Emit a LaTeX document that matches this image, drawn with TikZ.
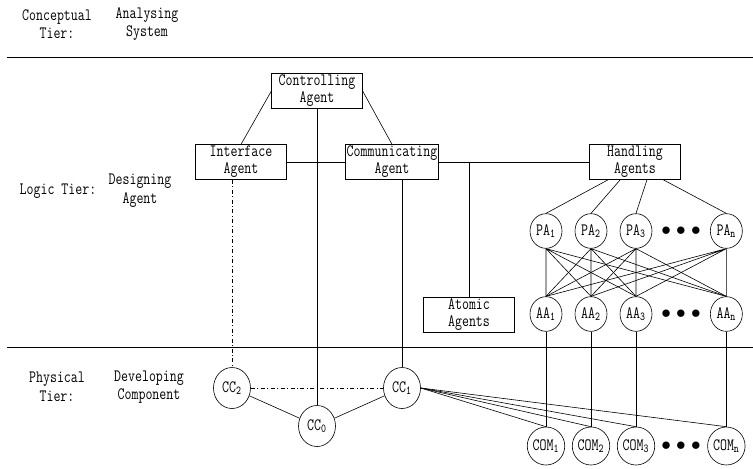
\documentclass[tikz,border=0pt]{standalone}
\usepackage{fontspec}
\setmonofont[FakeStretch=0.78]{Latin Modern Mono}
\usepackage{tikz}
\usetikzlibrary{shapes}
\tikzstyle{agent}=[rectangle, draw, align=center, minimum width=68pt, minimum height=26pt, inner sep=1pt]
\tikzstyle{unit}=[ellipse, draw, inner sep=0pt, minimum width=24pt, minimum height=26pt]
\tikzstyle{port}=[ellipse, draw, inner sep=0pt, minimum width=26pt, minimum height=28.5pt]
\tikzstyle{comp}=[ellipse, draw, inner sep=0pt, minimum width=27.75pt, minimum height=30.75pt]
\tikzstyle{tier}=[align=center, font=\ttfamily\fontsize{13}{14}\selectfont]
\tikzstyle{more}=[font=\Large]

\begin{document}
\begin{tikzpicture}[x=0.75pt, y=-0.75pt, node distance=33.75pt, font=\ttfamily\fontsize{13}{12.75}\selectfont, line width=0.45pt]
      %
      \useasboundingbox (0,0) rectangle (753,468);
      %
      % Tier borders
      %
      \draw (7,57) -- (753,57);
      \draw (7,347) -- (753,347);
      %
      % Tier labels
      %
      \path node[tier] (concept) at (57,24) {Conceptual\\Tier:};
      \path node[tier] (analyse) at (147,24) {Analysing\\System};
      \path node[tier] (logic) at (58,191) {Logic Tier:};
      \path node[tier] (design) at (140,191) {Designing\\Agent};
      \path node[tier] (physical) at (57,387) {Physical\\Tier:};
      \path node[tier] (develop) at (149,387) {Developing\\Component};
      %
      % Agent boxes
      %
      \path node[agent] (ctrl) at (317,91) {Controlling\\Agent};
      \path node[agent] (intf) at (241,162) {Interface\\Agent};
      \path node[agent] (comm) at (392,162) {Communicating\\Agent};
      \path node[agent] (hand) at (635,162) {Handling\\Agents};
      \path node[agent] (atom) at (469,315) {Atomic\\Agents};
      %
      % Handling agents row
      %
      \path node[unit] (pa1) at (546,231) {PA\textsubscript{1}};
      \path node[unit, right of=pa1] (pa2) {PA\textsubscript{2}};
      \path node[unit, right of=pa2] (pa3) {PA\textsubscript{3}};
      \path node[more, right of=pa3] (padots) {$\bullet$\hspace{4pt}$\bullet$\hspace{4pt}$\bullet$};
      \path node[unit, right of=pa3, xshift=34pt] (pan) {PA\textsubscript{n}};
      %
      % Atomic agents row
      %
      \path node[unit] (aa1) at (546,314) {AA\textsubscript{1}};
      \path node[unit, right of=aa1] (aa2) {AA\textsubscript{2}};
      \path node[unit, right of=aa2] (aa3) {AA\textsubscript{3}};
      \path node[more, right of=aa3] (aadots) {$\bullet$\hspace{4pt}$\bullet$\hspace{4pt}$\bullet$};
      \path node[unit, right of=aa3, xshift=34pt] (aan) {AA\textsubscript{n}};
      %
      % Component row
      %
      \path node[port] (com1) at (546,446) {COM\textsubscript{1}};
      \path node[port, right of=com1] (com2) {COM\textsubscript{2}};
      \path node[port, right of=com2] (com3) {COM\textsubscript{3}};
      \path node[more, right of=com3] (comdots) {$\bullet$\hspace{4pt}$\bullet$\hspace{4pt}$\bullet$};
      \path node[port, right of=com3, xshift=34pt] (comn) {COM\textsubscript{n}};
      %
      \path node[comp] (cc2) at (232,388) {CC\textsubscript{2}};
      \path node[comp] (cc1) at (402,388) {CC\textsubscript{1}};
      \path node[comp] (cc0) at (317,426) {CC\textsubscript{0}};
      %
      % Controlling Agent --> Interface / Communicating / CC0
      %
      \path [draw] (ctrl.west) -- (intf.north);
      \path [draw] (ctrl.east) -- (comm.north);
      \path [draw] (ctrl.south) -- (cc0.north);
      %
      % Interface --> Communicating --> Handling / Atomic
      %
      \path [draw] (intf.east) -- (comm.west);
      \path [draw] (comm.east) -- (hand.west);
      \path [draw] (atom.north |- comm.east) -- (atom.north);
      %
      % Agents --> CC
      %
      \path [draw, dash dot] (cc2 |- intf.south) -- (cc2.north);
      \path [draw] (cc1 |- comm.south) -- (cc1.north);
      %
      % Handling --> PA
      %
      \path [draw] ([xshift=-20pt]hand.south) -- (pa1.north);
      \path [draw] ([xshift=-11pt]hand.south) -- (pa2.north);
      \path [draw] ([xshift=9pt]hand.south) -- (pa3.north);
      \path [draw] ([xshift=21pt]hand.south) -- (pan.north);
      %
      % PA --> AA
      %
      \path [draw] (pa1.south) -- (aa1.north) (pa1.south) -- (aa2.north) (pa1.south) -- (aa3.north) (pa1.south) -- (aan.north);
      \path [draw] (pa2.south) -- (aa1.north) (pa2.south) -- (aa2.north) (pa2.south) -- (aa3.north) (pa2.south) -- (aan.north);
      \path [draw] (pa3.south) -- (aa1.north) (pa3.south) -- (aa2.north) (pa3.south) -- (aa3.north) (pa3.south) -- (aan.north);
      \path [draw] (pan.south) -- (aa1.north) (pan.south) -- (aa2.north) (pan.south) -- (aa3.north) (pan.south) -- (aan.north);
      %
      % AA --> COM
      %
      \path [draw] (aa1.south) -- (com1.north);
      \path [draw] (aa2.south) -- (com2.north);
      \path [draw] (aa3.south) -- (com3.north);
      \path [draw] (aan.south) -- (comn.north);
      %
      % CC1 --> COM
      %
      \path [draw] (cc1.east) -- (com1.north);
      \path [draw] (cc1.east) -- (com2.north);
      \path [draw] (cc1.east) -- (com3.north);
      \path [draw] (cc1.east) -- (comn.north);
      %
      % CC2 --> CC0 --> CC1
      %
      \path [draw, dash dot] (cc2.east) -- (cc1.west);
      \path [draw] (cc2) -- (cc0);
      \path [draw] (cc0) -- (cc1);
      %
    \end{tikzpicture}
\end{document}
